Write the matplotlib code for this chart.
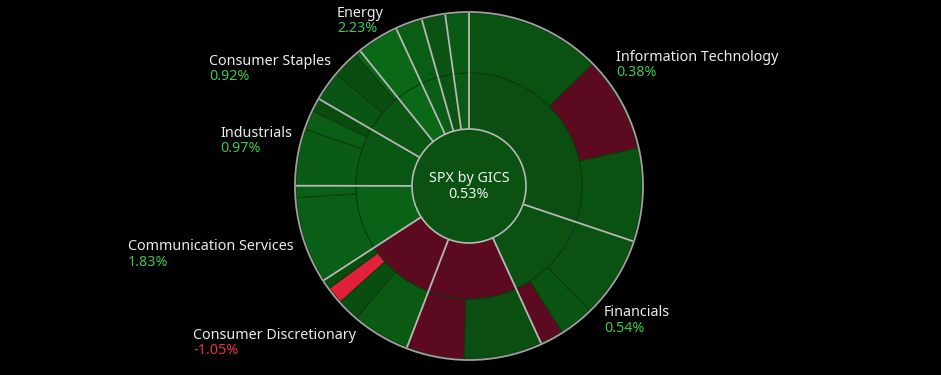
import numpy as np
import matplotlib.pyplot as plt
from matplotlib.patches import Circle

plt.rcParams['font.family'] = ['Noto Sans', 'DejaVu Sans']

# GICS sectors, clockwise from 12 o'clock
sectors = ['Information Technology', 'Financials', 'Health Care',
           'Consumer Discretionary', 'Communication Services', 'Industrials',
           'Consumer Staples', 'Energy', 'Utilities', 'Materials', 'Real Estate']
sector_chg = [0.38, 0.54, -0.60, -1.05, 1.83, 0.97, 0.92, 2.23, 1.40, 0.70, 1.10]
index_name = 'SPX by GICS'
index_chg = 0.53

# industry groups: parent sector, index weight (%), daily change (%)
group_sector = [0, 0, 0, 1, 1, 1, 2, 2, 3, 3, 3, 3, 4, 4, 5, 5, 5, 6, 6, 6, 7, 8, 9, 10]
group_weight = [12.6, 8.9, 8.7, 7.6, 3.2, 2.2, 7.3, 5.4, 5.4, 2.1, 1.6, 0.9,
                8.1, 1.1, 5.3, 1.8, 1.25, 2.8, 2.5, 0.55, 3.9, 2.5, 2.2, 2.2]
group_chg = [0.6, -0.7, 0.6, 0.5, 0.8, -0.4, 0.3, -1.3, 1.2, 0.2, -4.6, 0.1,
             1.5, 1.7, 1.3, 1.6, 0.1, 0.8, 0.2, 1.9, 2.23, 1.4, 0.7, 1.1]

# sectors that get a label, and where the label sits (image pixels, baseline of name)
labelled = [0, 1, 3, 4, 5, 6, 7]
label_xy = {0: (616, 61), 1: (604, 316), 3: (193, 339), 4: (128, 250),
            5: (220, 137), 6: (209, 65), 7: (337, 17)}

W, H = 941, 375
cx, cy = 469, H - 186
r_in, r_mid, r_out = 57, 113, 173


def chg_color(c):
    if c <= -3:
        return '#e3203b'
    if c < 0:
        return '#5c0a1f'
    t = min(c / 3.0, 1.0)
    g = 0x4a + (0x72 - 0x4a) * t
    return (0x0a / 255, g / 255, (0x10 + 0x0a * t) / 255)


sector_weight = np.zeros(len(sectors))
for s, w in zip(group_sector, group_weight):
    sector_weight[s] += w

fig = plt.figure(figsize=(W / 100, H / 100), dpi=100, facecolor='black')
ax = fig.add_axes([0, 0, 1, 1])
ax.set_facecolor('black')

edge = dict(edgecolor='#0c3a10', linewidth=0.7)
ax.pie(group_weight, radius=r_out, center=(cx, cy), startangle=90, counterclock=False,
       colors=[chg_color(c) for c in group_chg], wedgeprops=dict(width=r_out - r_mid, **edge))
ax.pie(sector_weight, radius=r_mid, center=(cx, cy), startangle=90, counterclock=False,
       colors=[chg_color(c) for c in sector_chg], wedgeprops=dict(width=r_mid - r_in, **edge))

# sector separators
cum = np.concatenate([[0], np.cumsum(sector_weight)])
for a in np.deg2rad(90 - 360 * cum[:-1] / cum[-1]):
    ax.plot([cx + r_in * np.cos(a), cx + r_out * np.cos(a)],
            [cy + r_in * np.sin(a), cy + r_out * np.sin(a)],
            color='#b8b8b8', lw=1.3, solid_capstyle='butt')

ax.add_patch(Circle((cx, cy), r_in, facecolor=chg_color(index_chg), edgecolor='#b8b8b8', lw=1.2))
ax.add_patch(Circle((cx, cy), r_out + 1, facecolor='none', edgecolor='#a0a0a0', lw=1.3))

ax.text(cx, H - 182, index_name, color='#f0f0f0', fontsize=10.3, ha='center', va='baseline')
ax.text(cx, H - 198.5, f'{index_chg:.2f}%', color='#f0f0f0', fontsize=10.3, ha='center', va='baseline')

for i in labelled:
    x, y = label_xy[i]
    c = sector_chg[i]
    ax.text(x, H - y, sectors[i], color='#ececec', fontsize=10.3, va='baseline')
    ax.text(x, H - y - 15.5, f'{c:.2f}%', color='#3cc84e' if c >= 0 else '#e8304a',
            fontsize=10.3, va='baseline')

ax.set_xlim(0, W)
ax.set_ylim(0, H)
ax.set_aspect('equal')
ax.axis('off')
fig.savefig('out.png', dpi=100, facecolor='black')
